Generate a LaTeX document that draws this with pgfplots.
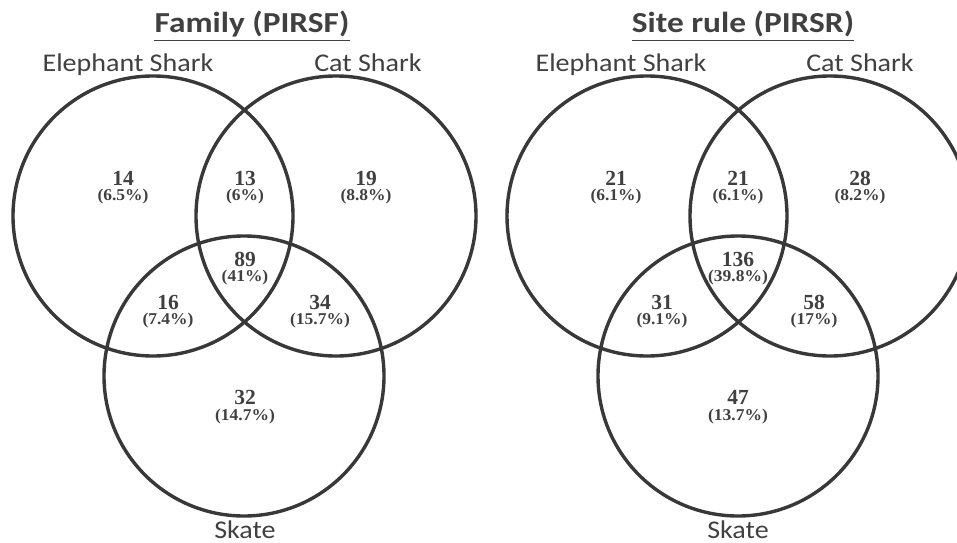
\documentclass[border=0pt]{standalone}
\usepackage{pgfplots}
\usepackage{pgfplotstable}
\usepackage{graphicx}
\pgfplotsset{compat=1.18}
\usepackage{fontspec}
\setmainfont{Carlito}
\newfontfamily\numfont{Liberation Serif}
\definecolor{txt}{HTML}{404040}
\definecolor{ring}{HTML}{383838}

\pgfplotstableread{
x y
153 216
336 216
244 376
647 216
830 216
738 376
}\circles

\pgfplotstableread{
x y n p yp
123 178 14 6.5 197
245 178 13 6 197
366 178 19 8.8 197
245 259 89 41 278
168 302 16 7.4 321
320 302 34 15.7 321
245 397 32 14.7 417
616 178 21 6.1 197
738 178 21 6.1 197
860 178 28 8.2 197
738 259 136 39.8 278
662 302 31 9.1 321
814 302 58 17 321
738 397 47 13.7 417
}\regions

\begin{document}
\begin{tikzpicture}
\begin{axis}[
  width=957bp, height=543bp, scale only axis,
  xmin=0, xmax=957, ymin=0, ymax=543, y dir=reverse,
  hide axis, clip marker paths=true,
]
% circles
\addplot[only marks, mark=o, mark size=140bp, line width=3.4bp, color=ring]
  table[x=x,y=y] {\circles};
% counts
\addplot[only marks, mark=none, nodes near coords, point meta=explicit symbolic,
  every node near coord/.append style={anchor=center, inner sep=0pt,
    font=\numfont\bfseries\fontsize{21.5bp}{21.5bp}\selectfont, text=txt}]
  table[x=x,y=y,meta=n] {\regions};
% percentages
\addplot[only marks, mark=none, nodes near coords={\scalebox{1.06}[1]{(\pgfplotspointmeta\%)}}, point meta=explicit symbolic,
  every node near coord/.append style={anchor=center, inner sep=0pt,
    font=\numfont\bfseries\fontsize{16.5bp}{16.5bp}\selectfont, text=txt}]
  table[x=x,y=yp,meta=p] {\regions};

\node[anchor=base, inner sep=0pt, text=txt, font=\bfseries\fontsize{29bp}{29bp}\selectfont] (t1) at (axis cs:252,33) {\scalebox{1.15}[1]{Family (PIRSF)}};
\node[anchor=base, inner sep=0pt, text=txt, font=\bfseries\fontsize{29bp}{29bp}\selectfont] (t2) at (axis cs:743,33) {\scalebox{1.15}[1]{Site rule (PIRSR)}};
\draw[txt, line width=1.8bp] ([yshift=-7.5bp]t1.base west) -- ([yshift=-7.5bp]t1.base east);
\draw[txt, line width=1.8bp] ([yshift=-7.5bp]t2.base west) -- ([yshift=-7.5bp]t2.base east);

\begin{scope}[every node/.style={anchor=base, inner sep=0pt, text=txt, font=\fontsize{25.5bp}{25.5bp}\selectfont}]
\node at (axis cs:128,72) {\scalebox{1.1}[1]{Elephant Shark}};
\node at (axis cs:368,72) {\scalebox{1.1}[1]{Cat Shark}};
\node at (axis cs:245,538) {\scalebox{1.1}[1]{Skate}};
\node at (axis cs:621,72) {\scalebox{1.1}[1]{Elephant Shark}};
\node at (axis cs:860,72) {\scalebox{1.1}[1]{Cat Shark}};
\node at (axis cs:738,538) {\scalebox{1.1}[1]{Skate}};
\end{scope}
\end{axis}
\pgfresetboundingbox
\path (current axis.south west) rectangle (current axis.north east);
\end{tikzpicture}
\end{document}
